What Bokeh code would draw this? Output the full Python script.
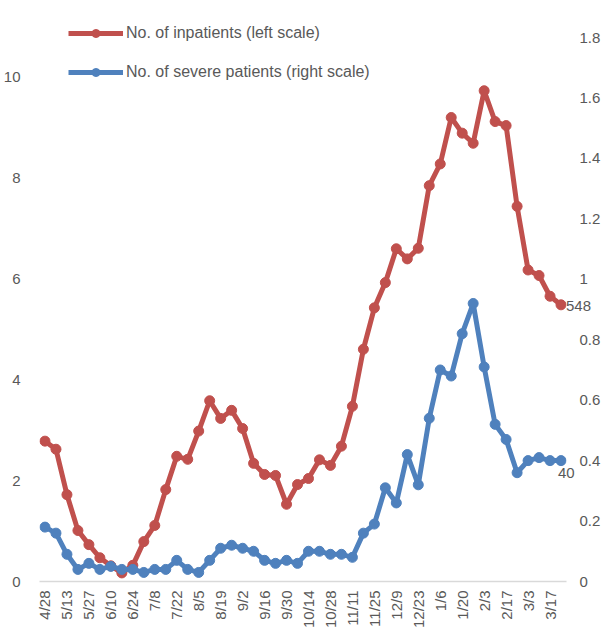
import math
from bokeh.plotting import figure
from bokeh.models import (Range1d, LinearAxis, FixedTicker, NumeralTickFormatter,
                          Legend, LegendItem, ColumnDataSource)
from bokeh.core.properties import value
from bokeh.embed import file_html
from bokeh.resources import INLINE

# ---- data ----
tick_labels = ["4/28", "5/13", "5/27", "6/10", "6/24", "7/8", "7/22", "8/5", "8/19",
               "9/2", "9/16", "9/30", "10/14", "10/28", "11/11", "11/25", "12/9",
               "12/23", "1/6", "1/20", "2/3", "2/17", "3/3", "3/17"]

inpatients = [2.78, 2.62, 1.72, 1.01, 0.73, 0.47, 0.31, 0.17, 0.32, 0.79, 1.11, 1.82,
              2.48, 2.42, 2.98, 3.58, 3.23, 3.39, 3.03, 2.34, 2.12, 2.10, 1.53, 1.92,
              2.04, 2.41, 2.30, 2.68, 3.47, 4.60, 5.42, 5.92, 6.59, 6.39, 6.60, 7.84,
              8.27, 9.19, 8.88, 8.68, 9.72, 9.11, 9.03, 7.43, 6.17, 6.06, 5.65, 5.48]

severe = [0.18, 0.16, 0.09, 0.04, 0.06, 0.04, 0.05, 0.04, 0.04, 0.03, 0.04, 0.04,
          0.07, 0.04, 0.03, 0.07, 0.11, 0.12, 0.11, 0.10, 0.07, 0.06, 0.07, 0.06,
          0.10, 0.10, 0.09, 0.09, 0.08, 0.16, 0.19, 0.31, 0.26, 0.42, 0.32, 0.54,
          0.70, 0.68, 0.82, 0.92, 0.71, 0.52, 0.47, 0.36, 0.40, 0.41, 0.40, 0.40]

left_ticks = [0, 2, 4, 6, 8, 10]
right_ticks = [0, 0.2, 0.4, 0.6, 0.8, 1.0, 1.2, 1.4, 1.6, 1.8]

RED = "#C0504D"
BLUE = "#4F81BD"
TXT = "#595959"
FONT = "Liberation Sans"
TICK_FS = "15px"

n = len(inpatients)
xs = list(range(n))
src = ColumnDataSource(dict(x=xs, inp=inpatients, sev=severe))

p = figure(width=603, height=632, output_backend="svg", toolbar_location=None,
           x_range=Range1d(-0.5, n - 0.5), y_range=Range1d(0, 11.25),
           min_border_left=38, min_border_right=34, min_border_top=13,
           min_border_bottom=51, outline_line_color=None)
p.extra_y_ranges = {"right": Range1d(0, 1.8796)}
p.xgrid.visible = False
p.ygrid.visible = False

# x axis
xa = p.xaxis[0]
xtick_pos = [2 * i for i in range(len(tick_labels))]
xa.ticker = FixedTicker(ticks=xtick_pos)
xa.major_label_overrides = {pos: lab for pos, lab in zip(xtick_pos, tick_labels)}
xa.major_label_orientation = math.pi / 2
xa.axis_line_color = "#D9D9D9"
xa.axis_line_width = 1.5
xa.major_tick_in = 0
xa.major_tick_out = 0
xa.minor_tick_in = 0
xa.minor_tick_out = 0
xa.major_label_standoff = 9
xa.major_label_text_font = FONT
xa.major_label_text_font_size = TICK_FS
xa.major_label_text_color = TXT

# left axis
ya = p.yaxis[0]
ya.ticker = FixedTicker(ticks=left_ticks)
ya.axis_line_color = None
ya.major_tick_in = 0
ya.major_tick_out = 0
ya.minor_tick_in = 0
ya.minor_tick_out = 0
ya.major_label_standoff = 19
ya.major_label_text_font = FONT
ya.major_label_text_font_size = TICK_FS
ya.major_label_text_color = TXT

# right axis
ra = LinearAxis(y_range_name="right", ticker=FixedTicker(ticks=right_ticks),
                formatter=NumeralTickFormatter(format="0.[0]"))
ra.axis_line_color = None
ra.major_tick_in = 0
ra.major_tick_out = 0
ra.minor_tick_in = 0
ra.minor_tick_out = 0
ra.major_label_standoff = 13
ra.major_label_text_font = FONT
ra.major_label_text_font_size = TICK_FS
ra.major_label_text_color = TXT
p.add_layout(ra, "right")

# series
r_line = p.line("x", "inp", source=src, line_color=RED, line_width=5)
r_pts = p.scatter("x", "inp", source=src, size=10, fill_color=RED, line_color=RED)
b_line = p.line("x", "sev", source=src, line_color=BLUE, line_width=5,
                y_range_name="right")
b_pts = p.scatter("x", "sev", source=src, size=10, fill_color=BLUE, line_color=BLUE,
                  y_range_name="right")

# end labels (overlay level so they are not clipped at the plot frame)
p.text(x=[xs[-1]], y=[inpatients[-1]], text=[f"{round(inpatients[-1] * 100)}"],
       x_offset=5, y_offset=1, text_baseline="middle", text_align="left",
       text_font=value(FONT), text_font_size=TICK_FS, text_color=TXT,
       level="overlay")
p.text(x=[xs[-1]], y=[severe[-1]], text=[f"{round(severe[-1] * 100)}"],
       x_offset=-3, y_offset=12, text_baseline="middle", text_align="left",
       text_font=value(FONT), text_font_size=TICK_FS, text_color=TXT,
       y_range_name="right", level="overlay")

legend = Legend(items=[
    LegendItem(label="No. of inpatients (left scale)", renderers=[r_line, r_pts]),
    LegendItem(label="No. of severe patients (right scale)", renderers=[b_line, b_pts]),
], location=(29, 499.5))
legend.glyph_width = 55
legend.glyph_height = 20
legend.label_height = 20
legend.label_standoff = 3
legend.spacing = 19
legend.padding = 0
legend.margin = 0
legend.border_line_color = None
legend.background_fill_alpha = 0
legend.label_text_font = FONT
legend.label_text_font_size = "16px"
legend.label_text_color = TXT
p.add_layout(legend)

open("out.html", "w").write(file_html(p, INLINE))
